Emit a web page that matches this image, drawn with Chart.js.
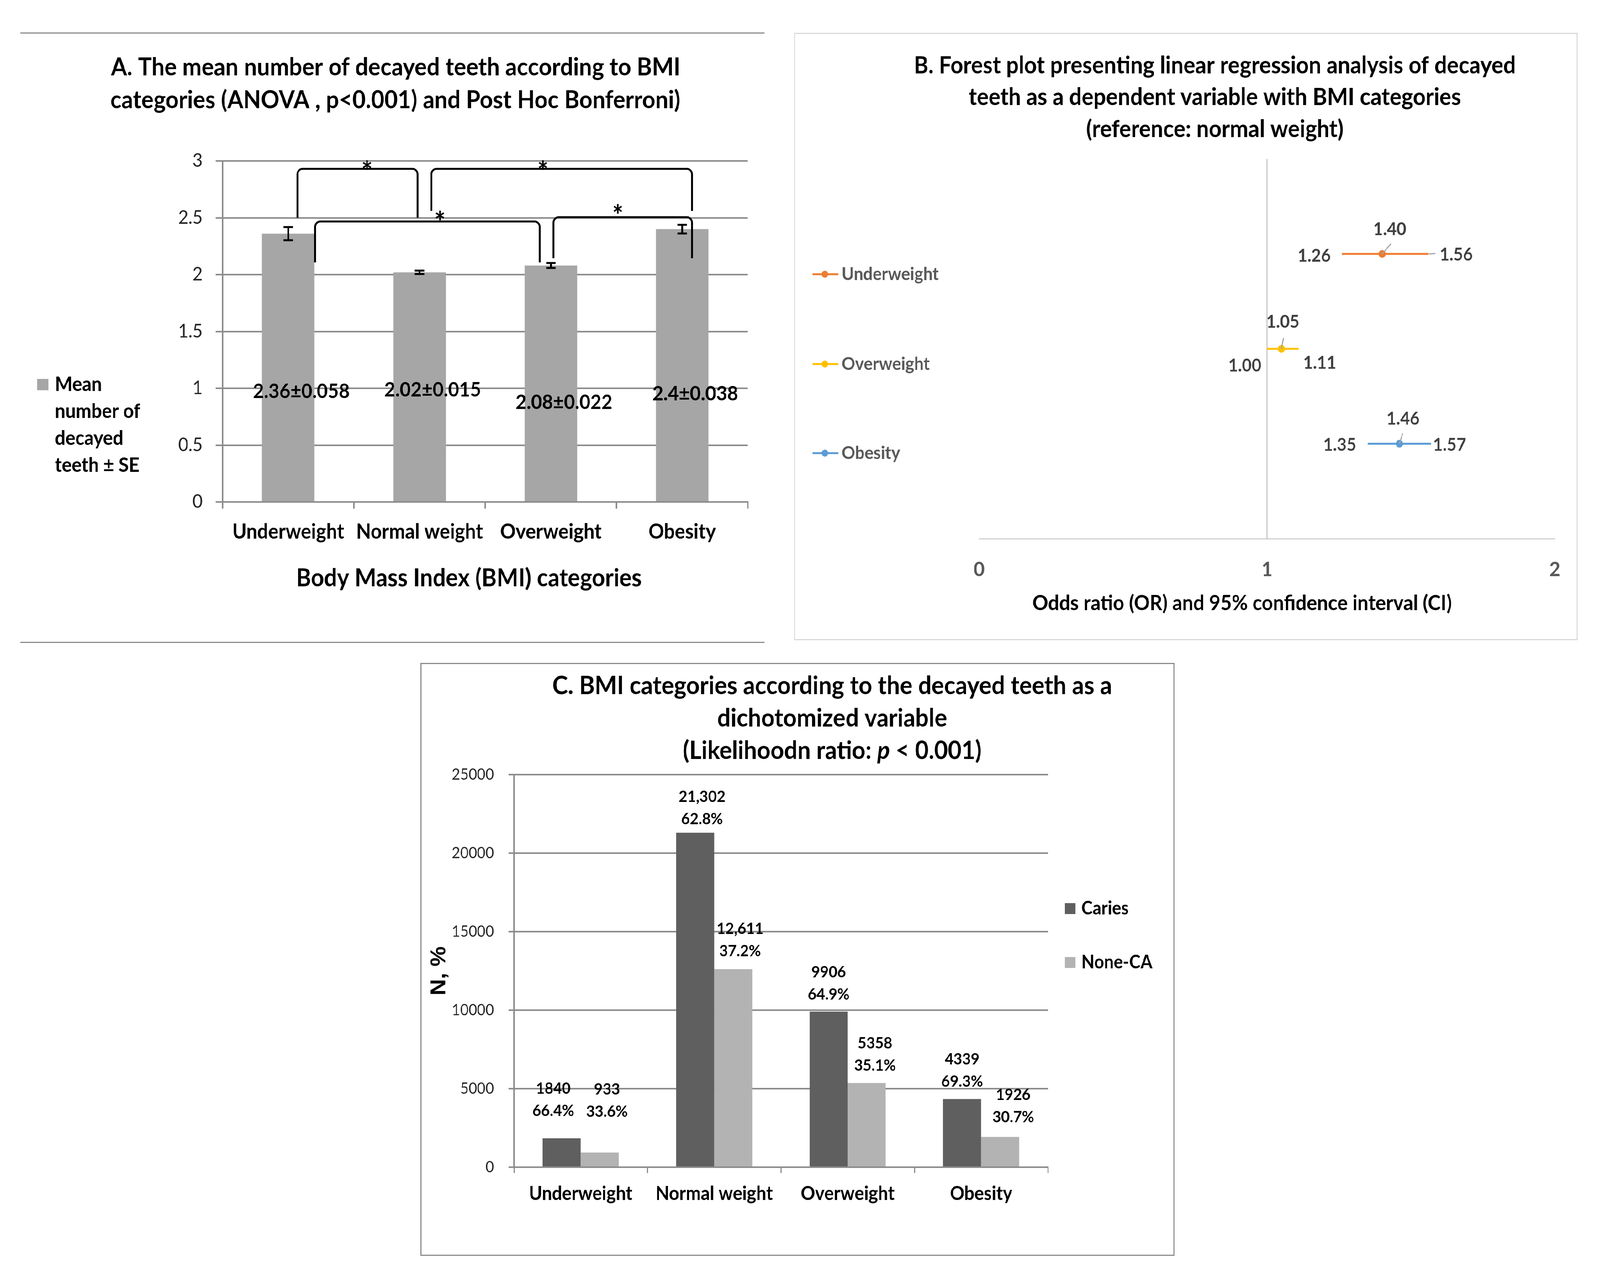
<!DOCTYPE html>
<html>
<head>
<meta charset="utf-8">
<title>BMI and decayed teeth</title>
<script src="https://cdn.jsdelivr.net/npm/chart.js@4.4.1/dist/chart.umd.min.js"></script>
<style>
    html, body { margin: 0; padding: 0; background: #fff; overflow: hidden; }
    #page { position: absolute; left: 0; top: 0; width: 4399px; height: 3264px; transform-origin: 0 0; background: #fff; }
    #page canvas { position: absolute; display: block; }
    .rule { position: absolute; height: 3px; background: #8c8c8c; }
</style>
</head>
<body>
<div id="page">
<div class="rule" style="left:56px; top:83px; width:2046px;"></div>
<div class="rule" style="left:56px; top:1643px; width:2046px;"></div>
<canvas id="chartA" width="2048" height="1560" style="left:56px; top:84px; width:2048px; height:1560px;"></canvas>
<canvas id="chartB" width="2155" height="1555" style="left:2183px; top:84px; width:2155px; height:1555px; outline:3px solid #d9d9d9; outline-offset:-3px;"></canvas>
<canvas id="chartC" width="2073" height="1518" style="left:1156px; top:1697px; width:2073px; height:1518px; outline:3px solid #8c8c8c; outline-offset:-3px;"></canvas>
</div>
<script>
// ---- 数据 ----
// A: 各BMI组平均龋齿数 ± SE
const categories = ['Underweight', 'Normal weight', 'Overweight', 'Obesity'];
const meanDecayed = [2.36, 2.02, 2.08, 2.4];
const seDecayed = [0.058, 0.015, 0.022, 0.038];
const yTicksA = [0, 0.5, 1, 1.5, 2, 2.5, 3];
const sigPairs = [[0, 1], [1, 3], [0, 2], [2, 3]];

// B: 森林图
const forestGroups = ['Underweight', 'Overweight', 'Obesity'];
const oddsRatio = [1.40, 1.05, 1.46];
const ciLower = [1.26, 1.00, 1.35];
const ciUpper = [1.56, 1.11, 1.57];
const forestRows = [3, 2, 1];
const xTicksB = [0, 1, 2];

// C: 二分类龋齿
const seriesC = ['Caries', 'None-CA'];
const cariesN = [1840, 21302, 9906, 4339];
const noneCaN = [933, 12611, 5358, 1926];
const cariesPct = [66.4, 62.8, 64.9, 69.3];
const noneCaPct = [33.6, 37.2, 35.1, 30.7];
const yTicksC = [0, 5000, 10000, 15000, 20000, 25000];

// ---- 页面缩放到窗口 (窗口宽度可能被限制) ----
(function fitPage() {
    const sx = window.innerWidth / 4399;
    const sy = window.innerHeight / 3264;
    document.getElementById('page').style.transform = `scale(${sx}, ${sy})`;
    document.body.style.width = window.innerWidth + 'px';
    document.body.style.height = window.innerHeight + 'px';
})();

// ---- 通用设置 ----
const FONT = 'Lato, "Open Sans", sans-serif';
Chart.defaults.font.family = FONT;
Chart.defaults.color = '#1a1a1a';

const measureCtx = document.createElement('canvas').getContext('2d');

// 按目标宽度算字号
function fitFont(text, width, weight, style) {
    measureCtx.font = `${style || ''} ${weight} 100px ${FONT}`;
    return 100 * width / measureCtx.measureText(text).width;
}

function font(size, weight, style) {
    return `${style || ''} ${weight || 'normal'} ${size}px ${FONT}`;
}

// 类别轴上的小数位置
function catX(scale, v) {
    const p0 = scale.getPixelForValue(0);
    const p1 = scale.getPixelForValue(1);
    return p0 + v * (p1 - p0);
}

// 标题 / 轴标题等文字
const panelText = {
    id: 'panelText',
    afterDraw(chart, args, opts) {
        const ctx = chart.ctx;
        (opts.items || []).forEach(item => {
            ctx.save();
            ctx.fillStyle = item.color || '#000';
            ctx.textBaseline = 'middle';
            if (item.parts) {
                let total = 0;
                item.parts.forEach(p => { ctx.font = p.font; total += ctx.measureText(p.text).width; });
                let x = item.x - total / 2;
                ctx.textAlign = 'left';
                item.parts.forEach(p => {
                    ctx.font = p.font;
                    ctx.fillText(p.text, x, item.y);
                    x += ctx.measureText(p.text).width;
                });
            } else {
                ctx.font = item.font;
                ctx.textAlign = item.align || 'center';
                ctx.fillText(item.text, item.x, item.y);
            }
            ctx.restore();
        });
    }
};
Chart.register(panelText);

const baseOptions = {
    responsive: false,
    animation: false,
    devicePixelRatio: 1,
    events: []
};

// ================= A =================
const titleA = ['A. The mean number of decayed teeth according to BMI',
                'categories (ANOVA , p<0.001) and Post Hoc Bonferroni)'];
const titleSizeA = fitFont(titleA[0], 1565, 'bold');
const axisTitleA = 'Body Mass Index (BMI) categories';
const axisSizeA = fitFont(axisTitleA, 950, 'bold');

// 括号形状 (类别坐标偏移 / 数值)
const bracketGeomA = [
    { off: [0.07, -0.015], top: 2.93, legs: [2.5, 2.5], star: [0.6, 2.95] },
    { off: [0.09, 0.075], top: 2.93, legs: [2.56, 2.56], star: [1.94, 2.95] },
    { off: [0.205, -0.085], top: 2.467, legs: [2.107, 2.107], star: [1.155, 2.505] },
    { off: [0.02, 0.075], top: 2.505, legs: [2.144, 2.144], star: [2.51, 2.565] }
];
const labelLevelA = [0.97, 0.985, 0.876, 0.95];

const errorBarsA = {
    id: 'errorBarsA',
    afterDatasetsDraw(chart) {
        const { ctx, scales: { x, y } } = chart;
        const meta = chart.getDatasetMeta(0);
        ctx.save();
        ctx.strokeStyle = '#000';
        ctx.lineWidth = 5;
        meta.data.forEach((bar, i) => {
            const top = y.getPixelForValue(meanDecayed[i] + seDecayed[i]);
            const bot = y.getPixelForValue(meanDecayed[i] - seDecayed[i]);
            ctx.beginPath();
            ctx.moveTo(bar.x, top); ctx.lineTo(bar.x, bot);
            ctx.moveTo(bar.x - 13, top); ctx.lineTo(bar.x + 13, top);
            ctx.moveTo(bar.x - 13, bot); ctx.lineTo(bar.x + 13, bot);
            ctx.stroke();
        });
        // 数据标签
        ctx.fillStyle = '#000';
        ctx.font = font(52, 'bold');
        ctx.textAlign = 'center';
        ctx.textBaseline = 'middle';
        meanDecayed.forEach((m, i) => {
            ctx.fillText(`${m}±${seDecayed[i]}`, catX(x, i + 0.1), y.getPixelForValue(labelLevelA[i]));
        });
        ctx.restore();
    }
};

const bracketsA = {
    id: 'bracketsA',
    afterDatasetsDraw(chart) {
        const { ctx, scales: { x, y } } = chart;
        const r = 14;
        ctx.save();
        ctx.strokeStyle = '#000';
        ctx.lineWidth = 5;
        sigPairs.forEach((pair, k) => {
            const g = bracketGeomA[k];
            const xl = catX(x, pair[0] + g.off[0]);
            const xr = catX(x, pair[1] + g.off[1]);
            const yt = y.getPixelForValue(g.top);
            ctx.beginPath();
            ctx.moveTo(xl, y.getPixelForValue(g.legs[0]));
            ctx.lineTo(xl, yt + r);
            ctx.arcTo(xl, yt, xl + r, yt, r);
            ctx.lineTo(xr - r, yt);
            ctx.arcTo(xr, yt, xr, yt + r, r);
            ctx.lineTo(xr, y.getPixelForValue(g.legs[1]));
            ctx.stroke();
        });
        ctx.fillStyle = '#000';
        ctx.font = font(72, 'bold');
        ctx.textAlign = 'center';
        ctx.textBaseline = 'middle';
        bracketGeomA.forEach(g => {
            ctx.fillText('*', catX(x, g.star[0]), y.getPixelForValue(g.star[1]) + 16);
        });
        ctx.restore();
    }
};

const legendA = {
    id: 'legendA',
    afterDraw(chart) {
        const ctx = chart.ctx;
        const lines = ['Mean', 'number of', 'decayed', 'teeth ± SE'];
        ctx.save();
        ctx.fillStyle = '#a6a6a6';
        ctx.fillRect(46, 886, 31, 29);
        ctx.fillStyle = '#000';
        ctx.font = font(51, 'bold');
        ctx.textAlign = 'left';
        ctx.textBaseline = 'middle';
        lines.forEach((t, i) => ctx.fillText(t, 95, 901 + i * 69));
        ctx.restore();
    }
};

new Chart(document.getElementById('chartA'), {
    type: 'bar',
    data: {
        labels: categories,
        datasets: [{
            label: 'Mean number of decayed teeth ± SE',
            data: meanDecayed,
            backgroundColor: '#a6a6a6',
            categoryPercentage: 1,
            barPercentage: 0.4
        }]
    },
    options: {
        ...baseOptions,
        layout: { padding: { left: 10, right: 48, top: 328, bottom: 10 } },
        plugins: {
            legend: { display: false },
            tooltip: { enabled: false },
            panelText: {
                items: [
                    { text: titleA[0], x: 1032, y: 89, font: font(titleSizeA.toFixed(1), 'bold') },
                    { text: titleA[1], x: 1031, y: 173, font: font(titleSizeA.toFixed(1), 'bold') },
                    { text: axisTitleA, x: 1233, y: 1397, font: font(axisSizeA.toFixed(1), 'bold') }
                ]
            }
        },
        scales: {
            x: {
                grid: { drawOnChartArea: false, tickLength: 17, color: '#8c8c8c', lineWidth: 4 },
                border: { display: true, color: '#8c8c8c', width: 4 },
                ticks: { font: { size: 53, weight: 'bold' }, color: '#000', padding: 28 },
                afterFit: s => { s.height = 349; }
            },
            y: {
                min: 0,
                max: 3,
                afterBuildTicks: s => { s.ticks = yTicksA.map(v => ({ value: v })); },
                grid: { color: '#8c8c8c', lineWidth: 4, tickLength: 19 },
                border: { display: true, color: '#8c8c8c', width: 4 },
                ticks: { font: { size: 48 }, color: '#262626', padding: 36, callback: v => String(v) },
                afterFit: s => { s.width = 546; }
            }
        }
    },
    plugins: [bracketsA, errorBarsA, legendA]
});

// ================= B =================
const titleB = ['B. Forest plot presenting linear regression analysis of decayed',
                'teeth as a dependent variable with BMI categories',
                '(reference: normal weight)'];
const titleSizeB = fitFont(titleB[0], 1655, 'bold');
const axisTitleB = 'Odds ratio (OR) and 95% confidence interval (CI)';
const axisSizeB = fitFont(axisTitleB, 1153, 'bold');
const coloursB = ['#ed7d31', '#ffc000', '#5b9bd5'];

// 标签相对位置 (px)
const labelOffsetsB = [
    { or: [21, -63], lo: [-76, 5], hi: [77, 2], lead: [24, -26] },
    { or: [4, -69], lo: [-61, 43], hi: [58, 36], lead: [6, -28] },
    { or: [10, -64], lo: [-77, 3], hi: [51, 3], lead: [9, -27] }
];

const labelsB = {
    id: 'labelsB',
    afterDatasetsDraw(chart) {
        const ctx = chart.ctx;
        ctx.save();
        forestGroups.forEach((g, i) => {
            const pts = chart.getDatasetMeta(i).data;
            const o = labelOffsetsB[i];
            // 引导线
            ctx.strokeStyle = '#a6a6a6';
            ctx.lineWidth = 3;
            ctx.beginPath();
            ctx.moveTo(pts[1].x, pts[1].y);
            ctx.lineTo(pts[1].x + o.lead[0], pts[1].y + o.lead[1]);
            if (i === 0) {
                ctx.moveTo(pts[2].x + 2, pts[2].y);
                ctx.lineTo(pts[2].x + 20, pts[2].y - 1);
            }
            ctx.stroke();
            ctx.fillStyle = '#404040';
            ctx.font = font(46, 'bold');
            ctx.textAlign = 'center';
            ctx.textBaseline = 'middle';
            ctx.fillText(oddsRatio[i].toFixed(2), pts[1].x + o.or[0], pts[1].y + o.or[1]);
            ctx.fillText(ciLower[i].toFixed(2), pts[0].x + o.lo[0], pts[0].y + o.lo[1]);
            ctx.fillText(ciUpper[i].toFixed(2), pts[2].x + o.hi[0], pts[2].y + o.hi[1]);
        });
        ctx.restore();
    }
};

const legendB = {
    id: 'legendB',
    afterDraw(chart) {
        const ctx = chart.ctx;
        const rowsY = [618, 848, 1076];
        ctx.save();
        forestGroups.forEach((g, i) => {
            ctx.strokeStyle = coloursB[i];
            ctx.fillStyle = coloursB[i];
            ctx.lineWidth = 5;
            ctx.beginPath();
            ctx.moveTo(51, rowsY[i]);
            ctx.lineTo(122, rowsY[i]);
            ctx.stroke();
            ctx.beginPath();
            ctx.arc(85, rowsY[i], 9, 0, Math.PI * 2);
            ctx.fill();
            ctx.fillStyle = '#595959';
            ctx.font = font(46, 'bold');
            ctx.textAlign = 'left';
            ctx.textBaseline = 'middle';
            ctx.fillText(g, 131, rowsY[i]);
        });
        ctx.restore();
    }
};

new Chart(document.getElementById('chartB'), {
    type: 'scatter',
    data: {
        datasets: forestGroups.map((g, i) => ({
            label: g,
            data: [
                { x: ciLower[i], y: forestRows[i] },
                { x: oddsRatio[i], y: forestRows[i] },
                { x: ciUpper[i], y: forestRows[i] }
            ],
            showLine: true,
            borderColor: coloursB[i],
            backgroundColor: coloursB[i],
            borderWidth: 5,
            pointRadius: [0, 10, 0],
            pointBorderWidth: 0
        }))
    },
    options: {
        ...baseOptions,
        layout: { padding: { left: 509, right: 54, top: 323, bottom: 10 } },
        plugins: {
            legend: { display: false },
            tooltip: { enabled: false },
            panelText: {
                items: [
                    { text: titleB[0], x: 1157, y: 84, font: font(titleSizeB.toFixed(1), 'bold') },
                    { text: titleB[1], x: 1157, y: 165, font: font(titleSizeB.toFixed(1), 'bold') },
                    { text: titleB[2], x: 1157, y: 247, font: font(titleSizeB.toFixed(1), 'bold') },
                    { text: axisTitleB, x: 1232, y: 1461, font: font(axisSizeB.toFixed(1), 'bold') }
                ]
            }
        },
        scales: {
            x: {
                type: 'linear',
                min: 0,
                max: 2,
                afterBuildTicks: s => { s.ticks = xTicksB.map(v => ({ value: v })); },
                grid: {
                    drawTicks: false,
                    lineWidth: 3,
                    color: c => (c.tick && c.tick.value === 1 ? '#c8c8c8' : 'rgba(0,0,0,0)')
                },
                border: { display: true, color: '#d0d0d0', width: 3 },
                ticks: { font: { size: 52, weight: 'bold' }, color: '#595959', padding: 48 },
                afterFit: s => { s.height = 250; }
            },
            y: { display: false, min: 0, max: 4 }
        }
    },
    plugins: [labelsB, legendB]
});

// ================= C =================
const titleC = ['C. BMI categories according to the decayed teeth as a',
                'dichotomized variable'];
const titleSizeC = fitFont(titleC[0], 1538, 'bold');
const coloursC = ['#5f5f5f', '#b3b3b3'];

function countText(n) {
    return n >= 10000 ? n.toLocaleString('en-US') : String(n);
}

// 标签微调 [dx, 与柱顶距离]
const nudgeC = [
    [[-23, 70], [19, 35], [0, 44], [0, 45]],
    [[20, 105], [19, 46], [23, 45], [36, 51]]
];

const labelsC = {
    id: 'labelsC',
    afterDatasetsDraw(chart) {
        const ctx = chart.ctx;
        const counts = [cariesN, noneCaN];
        const pcts = [cariesPct, noneCaPct];
        ctx.save();
        ctx.fillStyle = '#000';
        ctx.font = font(41, 'bold');
        ctx.textAlign = 'center';
        ctx.textBaseline = 'middle';
        [0, 1].forEach(d => {
            chart.getDatasetMeta(d).data.forEach((bar, i) => {
                const [dx, gap] = nudgeC[d][i];
                const y2 = bar.y - gap;
                ctx.fillText(countText(counts[d][i]), bar.x + dx, y2 - 57);
                ctx.fillText(pcts[d][i].toFixed(1) + '%', bar.x + dx, y2);
            });
        });
        ctx.restore();
    }
};

const legendC = {
    id: 'legendC',
    afterDraw(chart) {
        const ctx = chart.ctx;
        const rowsY = [629, 767];
        ctx.save();
        seriesC.forEach((s, i) => {
            ctx.fillStyle = coloursC[i];
            ctx.fillRect(1772, rowsY[i] - 14, 29, 28);
            ctx.fillStyle = '#000';
            ctx.font = font(47, 'bold');
            ctx.textAlign = 'left';
            ctx.textBaseline = 'middle';
            ctx.fillText(s, 1817, rowsY[i]);
        });
        ctx.restore();
    }
};

const titleFontC = font(titleSizeC.toFixed(1), 'bold');
new Chart(document.getElementById('chartC'), {
    type: 'bar',
    data: {
        labels: categories,
        datasets: [
            { label: seriesC[0], data: cariesN, backgroundColor: coloursC[0], categoryPercentage: 0.57, barPercentage: 1 },
            { label: seriesC[1], data: noneCaN, backgroundColor: coloursC[1], categoryPercentage: 0.57, barPercentage: 1 }
        ]
    },
    options: {
        ...baseOptions,
        layout: { padding: { left: 10, right: 348, top: 286, bottom: 10 } },
        plugins: {
            legend: { display: false },
            tooltip: { enabled: false },
            panelText: {
                items: [
                    { text: titleC[0], x: 1132, y: 59, font: titleFontC },
                    { text: titleC[1], x: 1132, y: 142, font: titleFontC },
                    {
                        x: 1132, y: 225,
                        parts: [
                            { text: '(Likelihoodn ratio: ', font: titleFontC },
                            { text: 'p', font: font(titleSizeC.toFixed(1), 'bold', 'italic') },
                            { text: ' < 0.001)', font: titleFontC }
                        ]
                    }
                ]
            }
        },
        scales: {
            x: {
                grid: { drawOnChartArea: false, tickLength: 15, color: '#8c8c8c', lineWidth: 3 },
                border: { display: true, color: '#8c8c8c', width: 4 },
                ticks: { font: { size: 49, weight: 'bold' }, color: '#000', padding: 24 },
                afterFit: s => { s.height = 217; }
            },
            y: {
                min: 0,
                max: 25000,
                afterBuildTicks: s => { s.ticks = yTicksC.map(v => ({ value: v })); },
                grid: { color: '#8c8c8c', lineWidth: 4, tickLength: 15 },
                border: { display: true, color: '#8c8c8c', width: 4 },
                ticks: { font: { size: 40 }, color: '#262626', padding: 40, callback: v => String(v) },
                title: {
                    display: true,
                    text: 'N, %',
                    color: '#000',
                    font: { family: '"Liberation Sans", Arial, sans-serif', size: 58, weight: 'bold' },
                    padding: { top: 7, bottom: 0 }
                },
                afterFit: s => { s.width = 247; }
            }
        }
    },
    plugins: [labelsC, legendC]
});
</script>
</body>
</html>
